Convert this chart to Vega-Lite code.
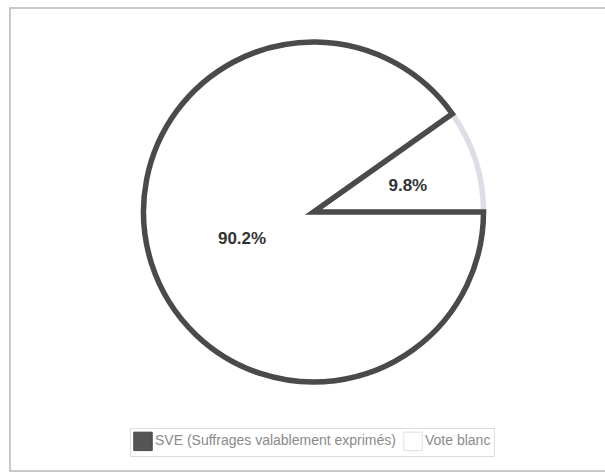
{
  "$schema": "https://vega.github.io/schema/vega-lite/v6.json",
  "width": 600,
  "height": 463,
  "padding": {"left": 10, "top": 8, "right": 0, "bottom": 3},
  "autosize": {"type": "none"},
  "background": "#ffffff",
  "config": {
    "view": {"stroke": null},
    "font": "Liberation Sans"
  },
  "datasets": {
    "votes": [
      {"label": "Vote blanc", "value": 9.8, "text": "9.8%"},
      {"label": "SVE (Suffrages valablement exprimés)", "value": 90.2, "text": "90.2%"}
    ]
  },
  "layer": [
    {
      "data": {"values": [{}]},
      "mark": {"type": "rect", "fill": null, "stroke": "#b8b8b8", "strokeWidth": 1.5},
      "encoding": {}
    },
    {
      "data": {"name": "votes"},
      "mark": {"type": "arc", "radius": 0, "x": {"expr": "303.5"}, "y": {"expr": "204"}},
      "encoding": {
        "theta": {"field": "value", "type": "quantitative", "stack": true, "scale": {"domain": [0, 100], "range": [0.955, 7.238]}},
        "order": {"field": "value", "type": "quantitative", "sort": "ascending"},
        "fill": {
          "field": "label", "type": "nominal",
          "scale": {"domain": ["SVE (Suffrages valablement exprimés)", "Vote blanc"], "range": ["#555555", "#ffffff"]},
          "legend": {
            "title": null,
            "orient": "none",
            "direction": "horizontal",
            "legendX": 120,
            "legendY": 420,
            "symbolType": "square",
            "symbolSize": 340,
            "symbolStrokeColor": "#dcdcdc",
            "symbolStrokeWidth": 1,
            "symbolOpacity": 1,
            "labelFontSize": 14,
            "labelColor": "#8a8a8a",
            "labelFont": "Liberation Sans",
            "labelLimit": 0,
            "columnPadding": 5,
            "labelOffset": 2,
            "strokeColor": "#dcdcdc",
            "fillColor": "#ffffff",
            "padding": 3
          }
        }
      }
    },
    {
      "data": {"name": "votes"},
      "mark": {"type": "arc", "radius": 170, "fill": "#ffffff", "strokeWidth": 5.5, "strokeJoin": "miter", "x": {"expr": "303.5"}, "y": {"expr": "204"}},
      "encoding": {
        "theta": {"field": "value", "type": "quantitative", "stack": true},
        "order": {"field": "value", "type": "quantitative", "sort": "ascending"},
        "stroke": {
          "field": "label", "type": "nominal",
          "scale": {"domain": ["SVE (Suffrages valablement exprimés)", "Vote blanc"], "range": ["#4a4a4a", "#dedee6"]},
          "legend": null
        }
      }
    },
    {
      "data": {"name": "votes"},
      "mark": {"type": "text", "radius": {"expr": "datum.label === 'Vote blanc' ? 99 : 75"}, "dy": 4, "fontSize": 17, "fontWeight": "bold", "color": "#333333", "x": {"expr": "303.5"}, "y": {"expr": "204"}},
      "encoding": {
        "theta": {"field": "value", "type": "quantitative", "stack": true},
        "order": {"field": "value", "type": "quantitative", "sort": "ascending"},
        "text": {"field": "text"}
      }
    }
  ]
}
